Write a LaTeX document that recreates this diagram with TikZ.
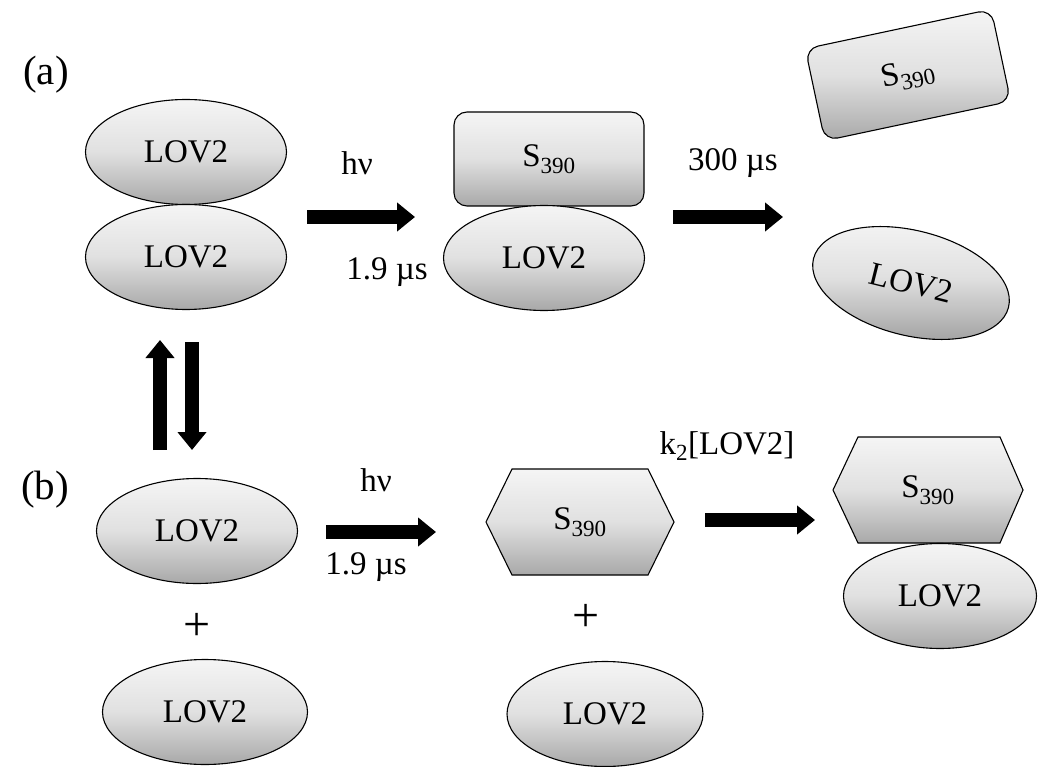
\documentclass[tikz,border=0pt]{standalone}
\usepackage{fontspec}
\setmainfont{Liberation Serif}
\usetikzlibrary{arrows.meta,shapes.geometric}
\begin{document}
\begin{tikzpicture}[x=1pt,y=-1pt,
  txt/.style={font=\fontsize{33}{38}\selectfont, inner sep=0pt},
  plus/.style={font=\fontsize{48}{50}\selectfont, inner sep=0pt},
  biglabel/.style={font=\fontsize{41}{46}\selectfont, inner sep=0pt},
  shade3d/.style={top color=gray!8, bottom color=gray!68, middle color=gray!24, draw=black, line width=1.1pt},
  lov/.style={ellipse, shade3d, txt, minimum width=201pt, minimum height=105pt},
  srect/.style={rectangle, rounded corners=13pt, shade3d, txt, minimum width=190pt, minimum height=94pt},
  blockarrow/.style={line width=14pt, -{Triangle[length=18pt,width=28pt]}}
]
\useasboundingbox (0,0) rectangle (1041,767);

% labels
\node[biglabel] (la) at (46,75) {(a)};
\node[biglabel] (lb) at (45,490) {(b)};

% (a) row
\node[lov] (a1) at (186,152) {LOV2};
\node[lov] (a2) at (186,257) {LOV2};
\node[srect] (as) at (549,159) {S\textsubscript{390}};
\node[lov] (al) at (544,258) {LOV2};
\node[srect, rotate=12] (ts) at (908,75) {S\textsubscript{390}};
\node[lov, rotate=-14] (tl) at (911,283) {LOV2};

\node[txt] (hv1) at (357,163) {hν};
\node[txt] (t1) at (387,272) {1.9 µs};
\node[txt] (t2) at (733,163) {300 µs};

\coordinate (a1s) at (307,217);
\coordinate (a1e) at (415,217);
\coordinate (a2s) at (673,217);
\coordinate (a2e) at (783,217);
\draw[blockarrow] (a1s) -- (a1e);
\draw[blockarrow] (a2s) -- (a2e);

% equilibrium arrows
\coordinate (ups) at (160,450);
\coordinate (upe) at (160,340);
\coordinate (dns) at (192,342);
\coordinate (dne) at (192,450);
\draw[blockarrow] (ups) -- (upe);
\draw[blockarrow] (dns) -- (dne);

% (b) row
\node[lov] (b1) at (197,531) {LOV2};
\node[plus] (p1) at (197,627) {+};
\node[lov, minimum width=205pt] (b2) at (205,712) {LOV2};

\path[shade3d, shift={(580,522)}] (-94,0) -- (-68,-53) -- (68,-53) -- (94,0) -- (68,53) -- (-68,53) -- cycle;
\node[txt] (h1) at (580,522) {S\textsubscript{390}};
\node[plus] (p2) at (586,618) {+};
\node[lov, minimum width=196pt] (b3) at (605,714) {LOV2};

\path[shade3d, shift={(928,490)}] (-95,0) -- (-70,-53) -- (72,-53) -- (95,0) -- (72,53) -- (-70,53) -- cycle;
\node[txt] (h2) at (928,490) {S\textsubscript{390}};
\node[lov, minimum width=193pt] (b4) at (940,596) {LOV2};

\node[txt] (hv2) at (376,480) {hν};
\node[txt] (t3) at (366,567) {1.9 µs};
\node[txt] (k2) at (727,446) {k\textsubscript{2}[LOV2]};

\coordinate (a3s) at (326,532);
\coordinate (a3e) at (436,532);
\coordinate (a4s) at (705,520);
\coordinate (a4e) at (815,520);
\draw[blockarrow] (a3s) -- (a3e);
\draw[blockarrow] (a4s) -- (a4e);
\end{tikzpicture}
\end{document}
